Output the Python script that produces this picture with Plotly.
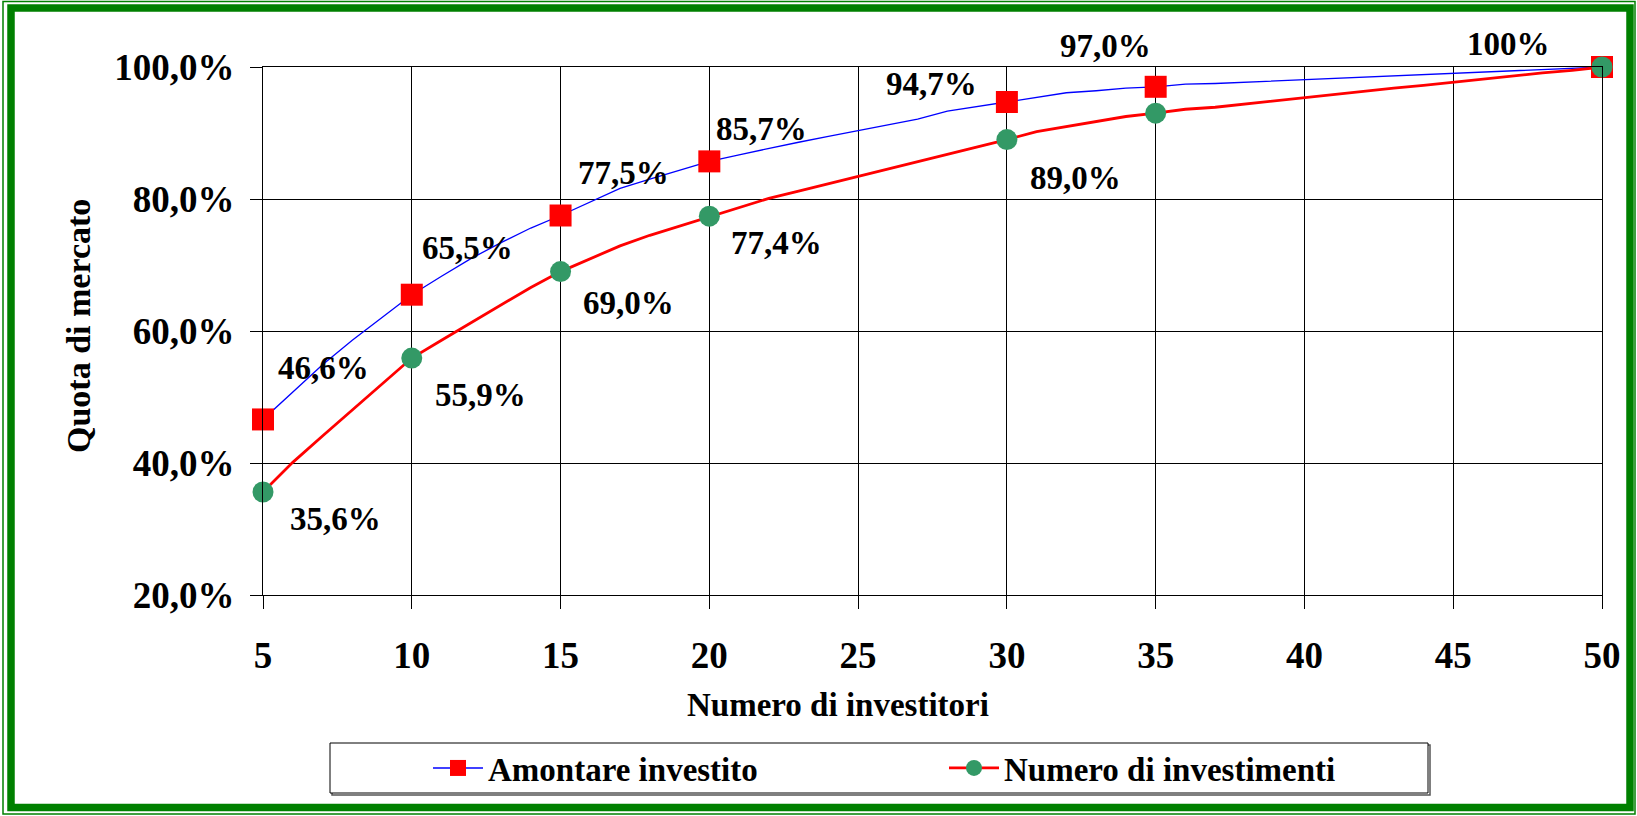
import plotly.graph_objects as go

# numero di investitori (asse x)
investitori = list(range(5, 51))

# quota cumulata sull'amontare investito (%)
amontare = [46.6, 50.8, 54.9, 58.6, 62.1, 65.5, 68.3, 71.0, 73.4, 75.6,
            77.5, 79.6, 81.6, 83.0, 84.4, 85.7, 86.7, 87.7, 88.6, 89.5,
            90.4, 91.3, 92.1, 93.3, 94.0, 94.7, 95.5, 96.1, 96.4, 96.8,
            97.0, 97.4, 97.5, 97.7, 97.9, 98.1, 98.3, 98.5, 98.7, 98.85,
            99.0, 99.2, 99.4, 99.6, 99.8, 100.0]

# quota cumulata sul numero di investimenti (%)
numero = [35.6, 40.1, 44.1, 48.0, 51.9, 55.9, 58.6, 61.3, 63.9, 66.6,
          69.0, 71.0, 72.9, 74.5, 75.9, 77.4, 78.7, 80.1, 81.2, 82.3,
          83.4, 84.5, 85.6, 86.8, 87.9, 89.0, 90.2, 91.0, 91.8, 92.5,
          93.0, 93.6, 93.9, 94.4, 94.9, 95.4, 95.9, 96.3, 96.8, 97.2,
          97.7, 98.2, 98.6, 99.1, 99.5, 100.0]

# punti evidenziati con marcatore
punti = [5, 10, 15, 20, 30, 35, 50]

# etichette
etichette_amontare = ["46,6%", "65,5%", "77,5%", "85,7%", "94,7%", "97,0%", "100%"]
etichette_numero = ["35,6%", "55,9%", "69,0%", "77,4%", "89,0%"]

W, H = 1637, 816
ML, MR, MT, MB = 263, 35, 67, 221
PW, PH = W - ML - MR, H - MT - MB


def px_x(px):
    return (px - ML) / PW


def px_y(py):
    return (H - MB - py) / PH


FONT = "Liberation Serif"
BLUE = "#0000FF"
RED = "#FF0000"
GREEN = "#339966"

idx = [investitori.index(p) for p in punti]
amontare_pt = [amontare[i] for i in idx]
numero_pt = [numero[i] for i in idx]

fig = go.Figure()

fig.add_trace(go.Scatter(x=investitori, y=amontare, mode="lines",
                         line=dict(color=BLUE, width=1.3),
                         showlegend=False, cliponaxis=False))
fig.add_trace(go.Scatter(x=investitori, y=numero, mode="lines",
                         line=dict(color=RED, width=2.8),
                         showlegend=False, cliponaxis=False))
fig.add_trace(go.Scatter(x=punti, y=amontare_pt, mode="markers",
                         marker=dict(symbol="square", size=22, color=RED),
                         showlegend=False, cliponaxis=False))
fig.add_trace(go.Scatter(x=punti, y=numero_pt, mode="markers",
                         marker=dict(symbol="circle", size=21, color=GREEN),
                         showlegend=False, cliponaxis=False))

# voci di legenda
fig.add_trace(go.Scatter(x=[None], y=[None], mode="lines+markers",
                         name="Amontare investito",
                         line=dict(color=BLUE, width=1.5),
                         marker=dict(symbol="square", size=22, color=RED)))
fig.add_trace(go.Scatter(x=[None], y=[None], mode="lines+markers",
                         name="Numero di investimenti",
                         line=dict(color=RED, width=2.8),
                         marker=dict(symbol="circle", size=22, color=GREEN)))

lab_font = dict(family=FONT, size=33, color="black", weight="bold")
annotations = []

# (xanchor, xshift, yshift) per etichetta
pos_amontare = [("left", 13, 51), ("left", 8, 47), ("left", 15, 43), ("left", 5, 32),
                ("right", -28, 18), ("right", -3, 41), ("right", -50, 23)]
for p, v, t, (xa, xs, ys) in zip(punti, amontare_pt, etichette_amontare, pos_amontare):
    annotations.append(dict(x=p, y=v, text=t, showarrow=False, xanchor=xa,
                            yanchor="middle", xshift=xs, yshift=ys, font=lab_font))

pos_numero = [("left", 25, -27), ("left", 21, -37), ("left", 20, -31),
              ("left", 20, -27), ("left", 21, -38)]
for p, v, t, (xa, xs, ys) in zip(punti, numero_pt, etichette_numero, pos_numero):
    annotations.append(dict(x=p, y=v, text=t, showarrow=False, xanchor=xa,
                            yanchor="middle", xshift=xs, yshift=ys, font=lab_font))

annotations.append(dict(x=px_x(838), y=px_y(705), xref="paper", yref="paper",
                        text="Numero di investitori", showarrow=False,
                        xanchor="center", yanchor="middle", font=lab_font))
annotations.append(dict(x=px_x(78), y=px_y(326), xref="paper", yref="paper",
                        text="Quota di mercato", showarrow=False, textangle=-90,
                        xanchor="center", yanchor="middle",
                        font=dict(family=FONT, size=34, color="black", weight="bold")))

shapes = [
    # cornice verde
    dict(type="rect", xref="paper", yref="paper", x0=px_x(3), x1=px_x(1635),
         y0=px_y(1.5), y1=px_y(814), line=dict(color="#008000", width=1.5)),
    dict(type="rect", xref="paper", yref="paper", x0=px_x(11), x1=px_x(1630),
         y0=px_y(8), y1=px_y(807.5), line=dict(color="#008000", width=7.5)),
    # riquadro legenda
    dict(type="rect", xref="paper", yref="paper", x0=px_x(332), x1=px_x(1430),
         y0=px_y(745), y1=px_y(795), line=dict(color="#555555", width=1.5)),
    dict(type="rect", xref="paper", yref="paper", x0=px_x(330), x1=px_x(1428),
         y0=px_y(743), y1=px_y(793), fillcolor="white",
         line=dict(color="black", width=1)),
]

fig.update_layout(
    width=W, height=H,
    margin=dict(l=ML, r=MR, t=MT, b=MB, autoexpand=False),
    paper_bgcolor="white", plot_bgcolor="white",
    separators=",.",
    font=dict(family=FONT, color="black"),
    annotations=annotations,
    shapes=shapes,
    legend=dict(orientation="h", x=px_x(428), y=px_y(768), xanchor="left",
                yanchor="middle", bgcolor="rgba(0,0,0,0)", entrywidth=451,
                itemwidth=50,
                font=dict(family=FONT, size=33, color="black", weight="bold")),
    hovermode=False,
)

fig.update_xaxes(range=[5, 50], tickvals=punti[:1] + list(range(10, 51, 5)),
                 showgrid=True, gridcolor="black", gridwidth=1,
                 showline=True, linecolor="black", linewidth=1, mirror=True,
                 ticks="outside", ticklen=13, tickcolor="black",
                 ticklabelstandoff=15, zeroline=False,
                 tickfont=dict(family=FONT, size=37, color="black", weight="bold"))
fig.update_yaxes(range=[20, 100], dtick=20, tick0=20, tickformat=".1f", ticksuffix="%",
                 showgrid=True, gridcolor="black", gridwidth=1,
                 showline=True, linecolor="black", linewidth=1, mirror=True,
                 ticks="outside", ticklen=12, tickcolor="black",
                 ticklabelstandoff=8, zeroline=False,
                 tickfont=dict(family=FONT, size=37, color="black", weight="bold"))

fig.write_html("out.html", config={"displayModeBar": False},
               post_script="document.body.style.margin='0px';")
